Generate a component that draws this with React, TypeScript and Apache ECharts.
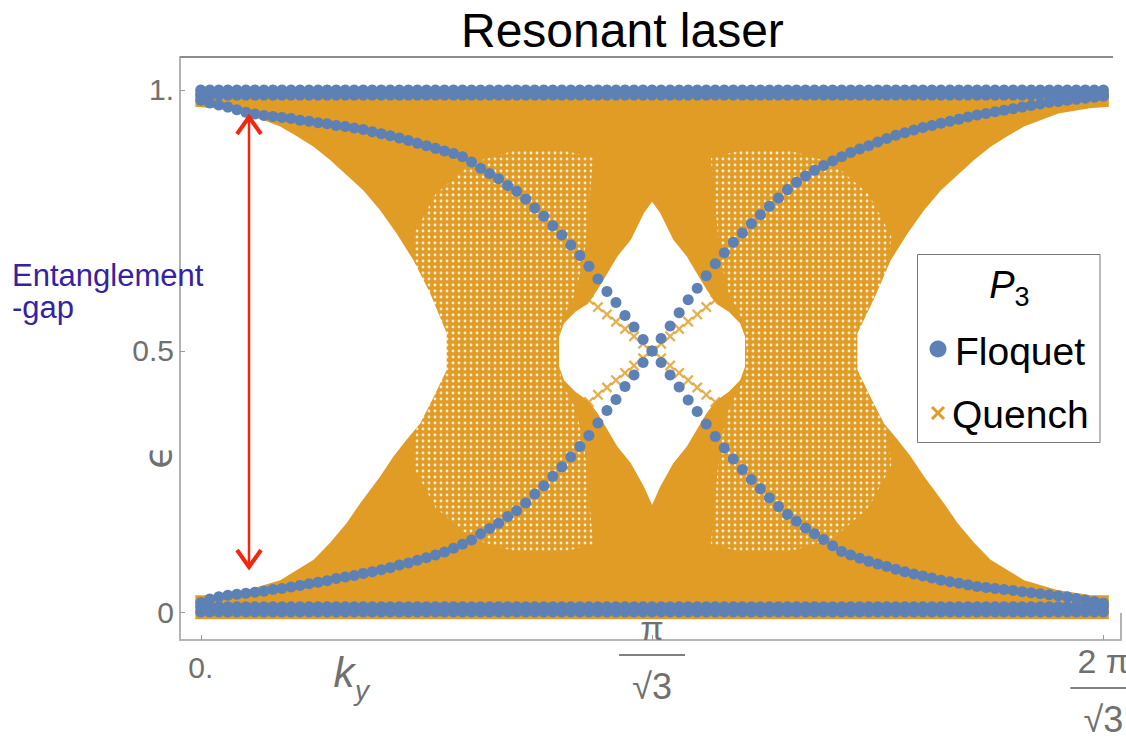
import React, { useEffect, useRef } from "react";
import * as echarts from "echarts";

// k_y in units of pi/sqrt(3)
const KY = [0,0.02,0.04,0.06,0.08,0.1,0.12,0.14,0.16,0.18,0.2,0.22,0.24,0.26,0.28,0.3,0.32,0.34,0.36,0.38,0.4,0.42,0.44,0.46,0.48,0.5,0.52,0.54,0.56,0.58,0.6,0.62,0.64,0.66,0.68,0.7,0.72,0.74,0.76,0.78,0.8,0.82,0.84,0.86,0.88,0.9,0.92,0.94,0.96,0.98,1,1.02,1.04,1.06,1.08,1.1,1.12,1.14,1.16,1.18,1.2,1.22,1.24,1.26,1.28,1.3,1.32,1.34,1.36,1.38,1.4,1.42,1.44,1.46,1.48,1.5,1.52,1.54,1.56,1.58,1.6,1.62,1.64,1.66,1.68,1.7,1.72,1.74,1.76,1.78,1.8,1.82,1.84,1.86,1.88,1.9,1.92,1.94,1.96,1.98,2];

// Floquet branch going from ~1 down to ~0
const FLOQUET_DESC = [
  0.980,0.975,0.971,0.967,0.962,0.957,0.954,0.951,0.949,0.947,
  0.945,0.942,0.940,0.937,0.935,0.932,0.930,0.927,0.924,0.920,
  0.916,0.912,0.908,0.903,0.898,0.893,0.888,0.883,0.878,0.872,
  0.862,0.850,0.840,0.830,0.817,0.806,0.791,0.774,0.758,0.740,
  0.722,0.703,0.683,0.662,0.638,0.614,0.593,0.568,0.546,0.522,
  0.500,
  0.478,0.454,0.431,0.406,0.384,0.360,0.336,0.314,0.293,0.273,
  0.254,0.236,0.219,0.202,0.187,0.174,0.161,0.150,0.139,0.127,
  0.116,0.109,0.103,0.097,0.092,0.087,0.082,0.077,0.073,0.069,
  0.065,0.061,0.058,0.055,0.052,0.049,0.047,0.045,0.043,0.041,
  0.039,0.037,0.035,0.033,0.031,0.029,0.026,0.023,0.020,0.017
];

// Floquet branch going from ~0 up to ~1
const FLOQUET_ASC = [
  0.018,0.025,0.029,0.032,0.034,0.036,0.038,0.040,0.043,0.045,
  0.048,0.051,0.054,0.057,0.060,0.064,0.067,0.070,0.074,0.077,
  0.081,0.085,0.090,0.094,0.099,0.104,0.109,0.115,0.122,0.130,
  0.138,0.150,0.160,0.170,0.183,0.194,0.209,0.226,0.242,0.260,
  0.278,0.297,0.317,0.338,0.362,0.386,0.407,0.432,0.454,0.478,
  0.500,
  0.524,0.548,0.573,0.598,0.620,0.644,0.667,0.688,0.708,0.726,
  0.744,0.761,0.777,0.793,0.809,0.823,0.835,0.846,0.855,0.864,
  0.872,0.880,0.887,0.893,0.900,0.907,0.913,0.918,0.923,0.928,
  0.932,0.936,0.940,0.944,0.948,0.952,0.955,0.958,0.961,0.964,
  0.967,0.970,0.973,0.976,0.978,0.980,0.982,0.984,0.986,0.988
];

// flat Floquet rows near 1 and 0
const FLOQUET_FLAT = [1.0, 0.99, 0.01, 0.0];

// Quench crossing lines near the centre
const QUENCH_K = [0.86,0.88,0.9,0.92,0.94,0.96,0.98,1,1.02,1.04,1.06,1.08,1.1,1.12,1.14];
const QUENCH_DESC = [0.598,0.584,0.570,0.556,0.542,0.528,0.514,0.500,0.486,0.472,0.458,0.444,0.430,0.416,0.402];
const QUENCH_ASC = [0.402,0.416,0.430,0.444,0.458,0.472,0.486,0.500,0.514,0.528,0.542,0.556,0.570,0.584,0.598];

// Quench band outline and its empty regions, [k, eps]
const QUENCH_ENVELOPE = [[-0.012,-0.014],[2.012,-0.014],[2.012,1.0],[-0.012,1.0]];
const QUENCH_HOLE_LEFT = [
  [-0.02,0.968],[0.03,0.965],[0.10,0.955],[0.176,0.930],[0.213,0.911],[0.25,0.891],[0.286,0.866],
  [0.323,0.837],[0.36,0.808],[0.397,0.770],[0.434,0.725],[0.471,0.674],[0.508,0.611],[0.545,0.534],
  [0.545,0.464],[0.516,0.412],[0.486,0.361],[0.456,0.330],[0.427,0.298],[0.397,0.259],[0.353,0.208],
  [0.323,0.170],[0.286,0.132],[0.25,0.100],[0.176,0.061],[0.102,0.042],[0.028,0.032],[-0.02,0.032]
];
const QUENCH_HOLE_RIGHT = [
  [2.02,0.968],[1.97,0.965],[1.90,0.955],[1.824,0.930],[1.787,0.911],[1.75,0.891],[1.714,0.866],
  [1.677,0.837],[1.64,0.808],[1.603,0.770],[1.566,0.725],[1.529,0.674],[1.492,0.600],[1.455,0.534],
  [1.455,0.464],[1.484,0.412],[1.514,0.361],[1.544,0.330],[1.573,0.298],[1.603,0.259],[1.647,0.208],
  [1.677,0.170],[1.714,0.132],[1.75,0.100],[1.824,0.061],[1.898,0.042],[1.972,0.032],[2.02,0.032]
];
const QUENCH_HOLE_CENTER = [
  [1.0,0.786],[1.018,0.764],[1.047,0.713],[1.077,0.681],[1.099,0.649],[1.121,0.617],[1.143,0.590],
  [1.170,0.575],[1.195,0.553],[1.206,0.527],[1.206,0.470],[1.195,0.444],[1.170,0.422],[1.143,0.405],
  [1.121,0.381],[1.099,0.349],[1.077,0.317],[1.047,0.285],[1.018,0.240],[1.0,0.205],
  [0.982,0.240],[0.953,0.285],[0.923,0.317],[0.901,0.349],[0.879,0.381],[0.857,0.405],[0.830,0.422],
  [0.805,0.444],[0.794,0.470],[0.794,0.527],[0.805,0.553],[0.830,0.575],[0.857,0.590],[0.879,0.617],
  [0.901,0.649],[0.923,0.681],[0.953,0.713],[0.982,0.764]
];
// sparser (speckled) parts of the Quench band
const QUENCH_SPARSE_LEFT = [
  [0.50,0.55],[0.48,0.63],[0.47,0.72],[0.52,0.80],[0.60,0.86],[0.70,0.885],[0.80,0.885],[0.87,0.87],
  [0.86,0.78],[0.85,0.68],[0.83,0.61],[0.80,0.56],[0.79,0.50],[0.80,0.44],[0.83,0.39],[0.85,0.32],
  [0.86,0.22],[0.87,0.13],[0.80,0.115],[0.70,0.115],[0.60,0.14],[0.52,0.20],[0.47,0.28],[0.48,0.37],[0.50,0.45]
];
const QUENCH_SPARSE_RIGHT = [
  [1.50,0.55],[1.52,0.63],[1.53,0.72],[1.48,0.80],[1.40,0.86],[1.30,0.885],[1.20,0.885],[1.13,0.87],
  [1.14,0.78],[1.15,0.68],[1.17,0.61],[1.20,0.56],[1.21,0.50],[1.20,0.44],[1.17,0.39],[1.15,0.32],
  [1.14,0.22],[1.13,0.13],[1.20,0.115],[1.30,0.115],[1.40,0.14],[1.48,0.20],[1.53,0.28],[1.52,0.37],[1.50,0.45]
];

const X_TICKS = [0, 1, 2];
const Y_TICKS = [0, 0.5, 1];
const Y_TICK_LABELS = ["0", "0.5", "1."];

const BLUE = "#5E81B5";
const ORANGE = "#E09C24";
const SPARSE_FALLBACK = "#E5AB48";
const GRAY = "#707070";
const FONT = "Liberation Sans, Arial, sans-serif";
const CROSS = "path://M1.5,0 L5,3.5 L8.5,0 L10,1.5 L6.5,5 L10,8.5 L8.5,10 L5,6.5 L1.5,10 L0,8.5 L3.5,5 L0,1.5 Z";

function sparseFill(): any {
  try {
    const c = document.createElement("canvas");
    c.width = 6;
    c.height = 6;
    const g = c.getContext("2d");
    if (!g) return SPARSE_FALLBACK;
    g.fillStyle = ORANGE;
    g.fillRect(0, 0, 6, 6);
    g.fillStyle = "#fbefd9";
    g.beginPath();
    g.arc(3, 3, 1.4, 0, Math.PI * 2);
    g.fill();
    return { image: c, repeat: "repeat", imageWidth: 6, imageHeight: 6 };
  } catch (e) {
    return SPARSE_FALLBACK;
  }
}

function polygonSeries(name: string, pts: number[][], fill: any) {
  return {
    type: "custom",
    name,
    silent: true,
    coordinateSystem: "cartesian2d",
    data: [[pts[0][0], pts[0][1]]],
    renderItem: (_p: any, api: any) => ({
      type: "polygon",
      shape: { points: pts.map((p) => api.coord(p)) },
      style: { fill },
    }),
  };
}

export default function App() {
  const ref = useRef<HTMLDivElement>(null);
  useEffect(() => {
    if (!ref.current) return;
    const chart = echarts.init(ref.current, null, { renderer: "svg" });

    const floquetData: number[][] = [];
    KY.forEach((k, i) => {
      FLOQUET_FLAT.forEach((v) => floquetData.push([k, v]));
      floquetData.push([k, FLOQUET_DESC[i]]);
      floquetData.push([k, FLOQUET_ASC[i]]);
    });
    const quenchData: number[][] = [];
    QUENCH_K.forEach((k, i) => {
      quenchData.push([k, QUENCH_DESC[i]]);
      quenchData.push([k, QUENCH_ASC[i]]);
    });
    const sparse = sparseFill();

    const option: any = {
      animation: false,
      backgroundColor: "#ffffff",
      title: {
        text: "Resonant laser",
        left: 461,
        top: 4,
        padding: 0,
        textStyle: { fontSize: 48, fontWeight: "normal", color: "#000", fontFamily: FONT, lineHeight: 52 },
      },
      grid: { left: 180, top: 57, width: 941, height: 583, containLabel: false, outerBoundsMode: "none" },
      xAxis: {
        type: "value",
        min: -0.046,
        max: 2.039,
        splitLine: { show: false },
        axisLine: { show: true, onZero: false, lineStyle: { color: "#b4b4b4", width: 2 } },
        axisTick: { show: true, inside: true, length: 5, customValues: X_TICKS, lineStyle: { color: "#999" } },
        axisLabel: {
          customValues: X_TICKS,
          margin: -29,
          color: GRAY,
          fontFamily: FONT,
          formatter: (v: number) =>
            v === 0
              ? "{s0| }\n{z|0.}"
              : v === 1
              ? "{n|π}\n{bar| }\n{d|√3}"
              : "{s2| }\n{n|2 π}\n{bar| }\n{d|√3}",
          rich: {
            s0: { fontSize: 2, lineHeight: 41 },
            s2: { fontSize: 2, lineHeight: 33 },
            z: { fontSize: 30, lineHeight: 30, color: GRAY, fontFamily: FONT },
            n: { fontSize: 34, lineHeight: 34, color: GRAY, fontFamily: FONT },
            bar: { width: 66, height: 2, lineHeight: 20, backgroundColor: "#808080", fontSize: 2 },
            d: { fontSize: 36, lineHeight: 42, color: GRAY, fontFamily: FONT },
          },
        },
      },
      yAxis: {
        type: "value",
        min: -0.0536,
        max: 1.063,
        splitLine: { show: false },
        axisLine: { show: true, onZero: false, lineStyle: { color: "#b4b4b4", width: 2 } },
        axisTick: { show: true, inside: true, length: 5, customValues: Y_TICKS, lineStyle: { color: "#999" } },
        axisLabel: {
          customValues: Y_TICKS,
          margin: 6,
          fontSize: 30,
          color: GRAY,
          fontFamily: FONT,
          formatter: (v: number) => Y_TICK_LABELS[Y_TICKS.indexOf(v)] ?? "",
        },
      },
      series: [
        polygonSeries("Quench band", QUENCH_ENVELOPE, ORANGE),
        polygonSeries("Quench sparse L", QUENCH_SPARSE_LEFT, sparse),
        polygonSeries("Quench sparse R", QUENCH_SPARSE_RIGHT, sparse),
        polygonSeries("gap L", QUENCH_HOLE_LEFT, "#ffffff"),
        polygonSeries("gap R", QUENCH_HOLE_RIGHT, "#ffffff"),
        polygonSeries("gap C", QUENCH_HOLE_CENTER, "#ffffff"),
        {
          type: "scatter",
          name: "Quench",
          symbol: CROSS,
          symbolSize: 11,
          itemStyle: { color: ORANGE },
          data: quenchData,
          silent: true,
        },
        {
          type: "scatter",
          name: "Floquet",
          symbol: "circle",
          symbolSize: 11,
          itemStyle: { color: BLUE, opacity: 1 },
          data: floquetData,
          silent: true,
        },
      ],
      graphic: [
        { type: "line", silent: true, z: 20, shape: { x1: 180, y1: 57, x2: 1113, y2: 57 }, style: { stroke: "#8c8c8c", lineWidth: 2 } },
        { type: "line", silent: true, z: 20, shape: { x1: 1121, y1: 613, x2: 1121, y2: 640 }, style: { stroke: "#b4b4b4", lineWidth: 2 } },
        // axis names
        {
          type: "text", silent: true, z: 20, x: 158, y: 457, rotation: Math.PI / 2,
          style: { text: "ϵ", fontSize: 38, fontFamily: "DejaVu Sans", fill: GRAY, align: "center", verticalAlign: "middle" },
        },
        { type: "text", silent: true, z: 20, x: 344, y: 672, style: { text: "k", fontSize: 42, fontStyle: "italic", fontFamily: FONT, fill: GRAY, align: "center", verticalAlign: "middle" } },
        { type: "text", silent: true, z: 20, x: 362, y: 690, style: { text: "y", fontSize: 28, fontStyle: "italic", fontFamily: FONT, fill: GRAY, align: "center", verticalAlign: "middle" } },
        // annotation
        { type: "text", silent: true, z: 20, x: 12, y: 275, style: { text: "Entanglement", fontSize: 31, fontFamily: FONT, fill: "#3522A3", align: "left", verticalAlign: "middle" } },
        { type: "text", silent: true, z: 20, x: 12, y: 307, style: { text: "-gap", fontSize: 31, fontFamily: FONT, fill: "#3522A3", align: "left", verticalAlign: "middle" } },
        { type: "line", silent: true, z: 20, shape: { x1: 249, y1: 118, x2: 249, y2: 566 }, style: { stroke: "#F5260F", lineWidth: 2.5 } },
        { type: "polyline", silent: true, z: 20, shape: { points: [[237, 134], [249, 117], [261, 134]] }, style: { stroke: "#F5260F", lineWidth: 4, fill: null } },
        { type: "polyline", silent: true, z: 20, shape: { points: [[237, 550], [249, 567], [261, 550]] }, style: { stroke: "#F5260F", lineWidth: 4, fill: null } },
        // legend box
        { type: "rect", silent: true, z: 20, shape: { x: 917.5, y: 254.5, width: 182.5, height: 188 }, style: { fill: "#ffffff", stroke: "#777", lineWidth: 1 } },
        { type: "text", silent: true, z: 21, x: 1002, y: 285, style: { text: "P", fontSize: 38, fontStyle: "italic", fontFamily: FONT, fill: "#000", align: "center", verticalAlign: "middle" } },
        { type: "text", silent: true, z: 21, x: 1022, y: 297, style: { text: "3", fontSize: 27, fontFamily: FONT, fill: "#000", align: "center", verticalAlign: "middle" } },
        { type: "circle", silent: true, z: 21, shape: { cx: 938, cy: 349, r: 8.5 }, style: { fill: BLUE } },
        { type: "text", silent: true, z: 21, x: 955, y: 351, style: { text: "Floquet", fontSize: 39, fontFamily: FONT, fill: "#000", align: "left", verticalAlign: "middle" } },
        { type: "line", silent: true, z: 21, shape: { x1: 932, y1: 407, x2: 944, y2: 419 }, style: { stroke: ORANGE, lineWidth: 3 } },
        { type: "line", silent: true, z: 21, shape: { x1: 944, y1: 407, x2: 932, y2: 419 }, style: { stroke: ORANGE, lineWidth: 3 } },
        { type: "text", silent: true, z: 21, x: 952, y: 414, style: { text: "Quench", fontSize: 39, fontFamily: FONT, fill: "#000", align: "left", verticalAlign: "middle" } },
      ],
    };
    chart.setOption(option);
    return () => chart.dispose();
  }, []);
  return <div ref={ref} style={{ position: "fixed", left: 0, top: 0, width: 1126, height: 740 }} />;
}
